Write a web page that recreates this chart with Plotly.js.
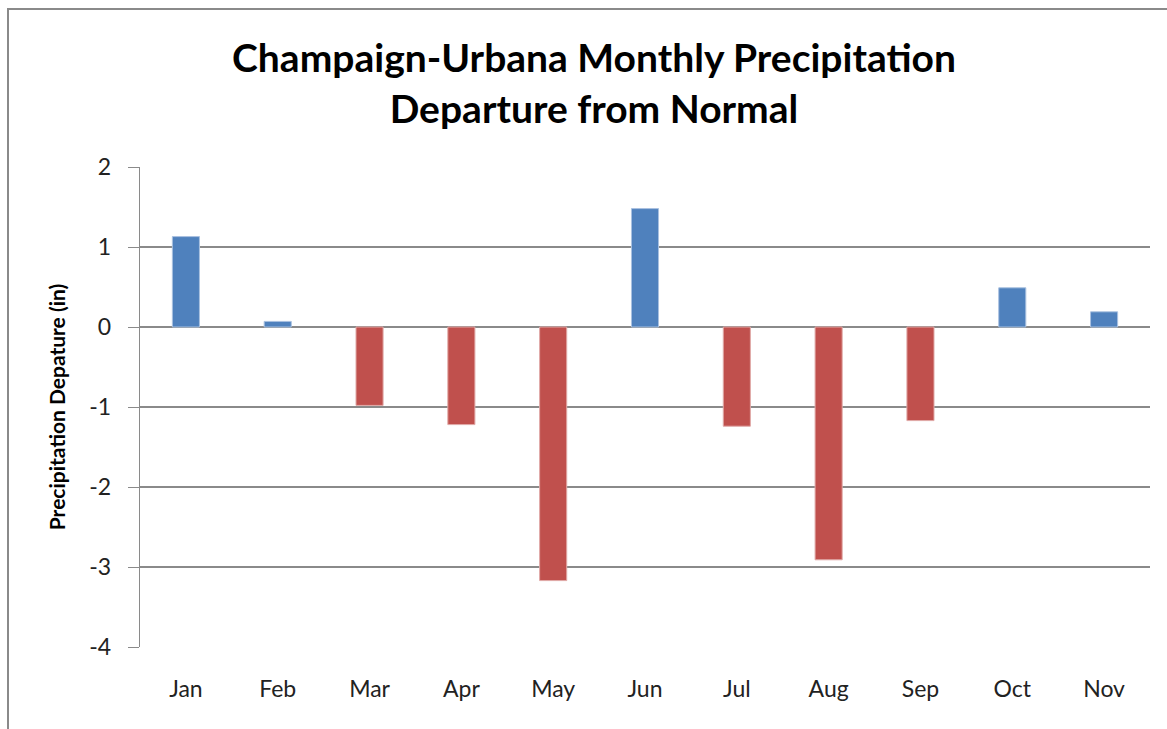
<!DOCTYPE html>
<html>
<head>
<meta charset="utf-8">
<script src="https://cdn.plot.ly/plotly-3.0.1.min.js"></script>
<style>
  html, body { margin: 0; padding: 0; background: #fff; overflow: hidden; width: 1167px; height: 729px; }
  #chart { position: absolute; left: 0; top: 0; width: 1167px; height: 729px; z-index: 1; }
  #frame { position: absolute; left: 7px; top: 8px; width: 1200px; height: 760px; border-left: 2px solid #8a8a8a; border-top: 2px solid #8a8a8a; box-sizing: border-box; z-index: 2; pointer-events: none; }
</style>
</head>
<body>
<div id="chart"></div>
<div id="frame"></div>
<script>
const months = ["Jan", "Feb", "Mar", "Apr", "May", "Jun", "Jul", "Aug", "Sep", "Oct", "Nov"];
const departure = [1.13, 0.07, -0.98, -1.22, -3.17, 1.48, -1.24, -2.91, -1.17, 0.49, 0.19];
const yTicks = [2, 1, 0, -1, -2, -3, -4];

const POS = "#4F81BD", NEG = "#C0504D";
const trace = {
  type: "bar",
  x: months,
  y: departure,
  marker: {
    color: departure.map(v => v >= 0 ? POS : NEG),
    line: { color: departure.map(v => v >= 0 ? "#a9c1e0" : "#e0a9a7"), width: 1 }
  },
  hoverinfo: "x+y"
};

const layout = {
  width: 1167, height: 729,
  paper_bgcolor: "rgba(0,0,0,0)",
  plot_bgcolor: "rgba(0,0,0,0)",
  margin: { l: 140, r: 17, t: 167, b: 82 },
  bargap: 0.705,
  showlegend: false,
  font: { family: "Lato, 'Open Sans', sans-serif", color: "#222" },
  title: {
    text: "<b>Champaign-Urbana Monthly Precipitation<br>Departure from Normal</b>",
    font: { size: 39, color: "#000", family: "Lato, 'Open Sans', sans-serif" },
    x: 594 / 1167, xref: "container", xanchor: "center",
    y: 1 - 72 / 729, yref: "container", yanchor: "middle"
  },
  xaxis: {
    type: "category",
    showgrid: false,
    zeroline: false,
    showline: false,
    ticks: "",
    tickfont: { size: 23, color: "#222" },
    ticklabelstandoff: 26
  },
  yaxis: {
    range: [-4, 2],
    tickvals: yTicks,
    ticktext: yTicks.map(String),
    showgrid: true,
    gridcolor: "#8a8a8a",
    gridwidth: 1.2,
    zeroline: false,
    showline: true,
    linecolor: "#8a8a8a",
    linewidth: 1.2,
    ticks: "outside",
    ticklen: 11,
    tickcolor: "#8a8a8a",
    tickfont: { size: 23, color: "#222" },
    ticklabelstandoff: 12,
    title: {
      text: "<b>Precipitation Depature (in)</b>",
      font: { size: 21, color: "#000" },
      standoff: 18
    }
  }
};

Plotly.newPlot("chart", [trace], layout, { displayModeBar: false, staticPlot: true });
</script>
</body>
</html>
